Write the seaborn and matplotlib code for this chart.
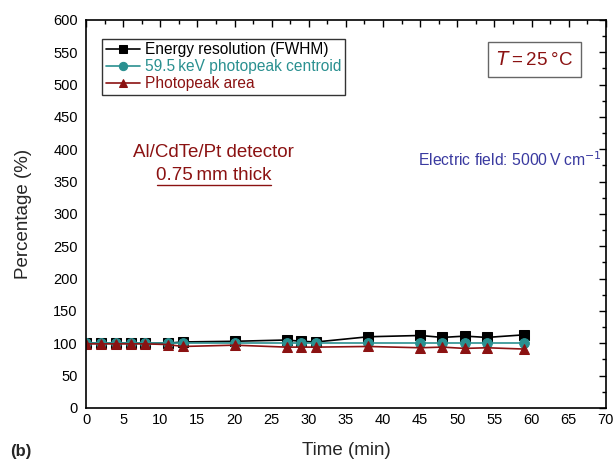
import matplotlib
matplotlib.use("Agg")
import matplotlib.pyplot as plt
import seaborn as sns
import pandas as pd
from matplotlib.ticker import MultipleLocator

time_min = [0, 2, 4, 6, 8, 11, 13, 20, 27, 29, 31, 38, 45, 48, 51, 54, 59]
fwhm = [100, 100, 100, 100, 100, 100, 102, 103, 105, 103, 102, 110, 112, 109, 111, 109, 113]
centroid = [100, 100, 100, 100, 100, 100, 100, 100, 100, 100, 100, 100, 100, 100, 100, 100, 100]
area = [99, 99, 99, 99, 99, 98, 95, 97, 94, 94, 94, 95, 93, 94, 92, 93, 91]
series_names = ["Energy resolution (FWHM)", "59.5\u2009keV photopeak centroid", "Photopeak area"]
colors = ["#000000", "#2a9090", "#8b1212"]
markers = ["s", "o", "^"]

sns.set_theme(style="white")
plt.rcParams['font.family'] = ['Liberation Sans', 'DejaVu Sans']

df = pd.concat([
    pd.DataFrame({"Time": time_min, "Value": vals, "Series": name})
    for name, vals in zip(series_names, [fwhm, centroid, area])
])

fig = plt.figure(figsize=(6.15, 4.63), dpi=100)
ax = fig.add_axes([0.140, 0.119, 0.845, 0.838])

for name, c, m in zip(series_names, colors, markers):
    sub = df[df.Series == name]
    sns.lineplot(data=sub, x="Time", y="Value", ax=ax, color=c, marker=m,
                 markersize=7, markeredgecolor=c, linewidth=1.2, label=name)

ax.set_xlim(0, 70)
ax.set_ylim(0, 600)
ax.xaxis.set_major_locator(MultipleLocator(5))
ax.xaxis.set_minor_locator(MultipleLocator(2.5))
ax.yaxis.set_major_locator(MultipleLocator(50))
ax.yaxis.set_minor_locator(MultipleLocator(25))
ax.tick_params(which='both', direction='in', top=True, right=True, labelsize=10.5, colors='black')
ax.tick_params(which='major', length=5, width=1)
ax.tick_params(which='minor', length=3, width=1)
ax.tick_params(axis='y', pad=6)
for s in ax.spines.values():
    s.set_color('black')
    s.set_linewidth(1.2)

ax.set_xlabel("Time (min)", fontsize=13.5, labelpad=11)
ax.set_ylabel("Percentage (%)", fontsize=13.5, labelpad=15)

leg = ax.legend(loc='upper left', bbox_to_anchor=(0.025, 0.96), fontsize=11.2,
                frameon=True, fancybox=False, edgecolor='black', handlelength=2.2,
                borderpad=0.25, labelspacing=0.12, handletextpad=0.3, borderaxespad=0.2,
                markerscale=0.85)
leg.get_frame().set_linewidth(1.0)
for t, c in zip(leg.get_texts(), colors):
    t.set_color(c)

ax.text(0.863, 0.897, r"$T$" + "\u2009=\u200925\u2009\u00b0C", transform=ax.transAxes,
        ha='center', va='center', fontsize=13.5, color="#8b1212",
        bbox=dict(boxstyle='square,pad=0.45', facecolor='white', edgecolor='#666666', linewidth=1))
ax.text(0.245, 0.658, "Al/CdTe/Pt detector", transform=ax.transAxes, ha='center', va='center',
        fontsize=13.5, color="#8b1212")
ax.text(0.245, 0.598, "0.75\u2009mm thick", transform=ax.transAxes, ha='center', va='center',
        fontsize=13.5, color="#8b1212")
ax.plot([0.137, 0.355], [0.575, 0.575], transform=ax.transAxes, color="#8b1212", linewidth=1)
ax.text(0.815, 0.64, "Electric field: 5000\u2009V\u2009cm$^{-1}$", transform=ax.transAxes,
        ha='center', va='center', fontsize=11.3, color="#3a3aa0")

fig.text(0.016, 0.024, "(b)", fontsize=12, fontweight='bold', ha='left', va='center')

fig.savefig("out.png", dpi=100)
